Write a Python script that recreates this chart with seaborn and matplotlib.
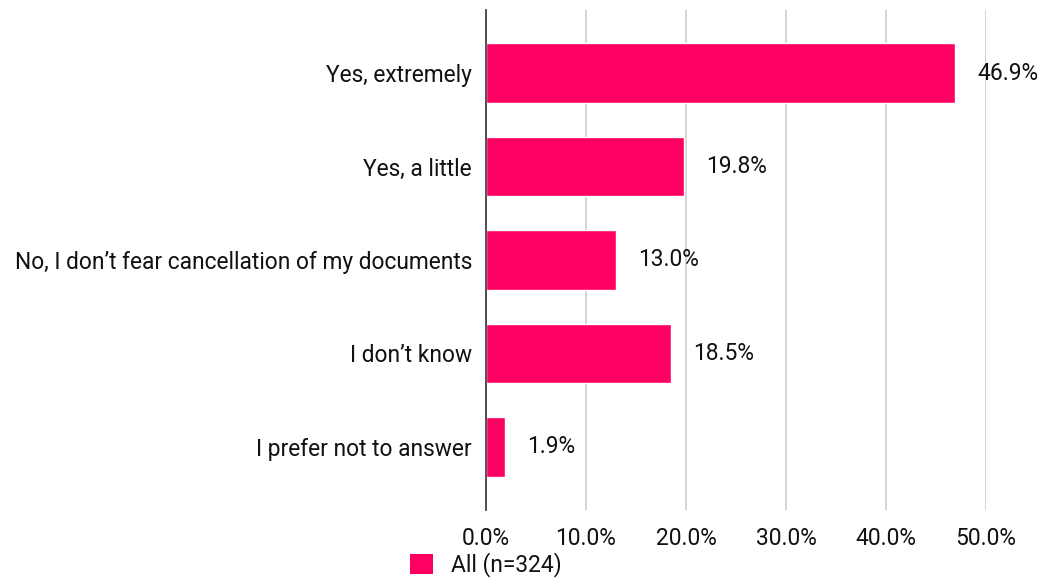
import matplotlib
matplotlib.use("Agg")
import matplotlib.pyplot as plt
import seaborn as sns
import pandas as pd
from matplotlib.patches import Patch

categories = [
    "Yes, extremely",
    "Yes, a little",
    "No, I don\u2019t fear cancellation of my documents",
    "I don\u2019t know",
    "I prefer not to answer",
]
values = [46.9, 19.8, 13.0, 18.5, 1.9]
series_name = "All (n=324)"
tick_values = [0, 10, 20, 30, 40, 50]

bar_color = "#FF0062"
text_color = "#111111"
font_size = 16.4

sns.set_theme(style="white")
plt.rcParams["font.family"] = ["Roboto", "DejaVu Sans"]

df = pd.DataFrame({"category": categories, "value": values})

fig = plt.figure(figsize=(10.41, 5.87), dpi=100)
ax = fig.add_axes([486 / 1041, 1 - 510 / 587, 500 / 1041, 500 / 587])

sns.barplot(data=df, y="category", x="value", orient="h", color=bar_color,
            width=0.64, saturation=1, ax=ax, zorder=3)

ax.set_xlim(0, 50)
ax.set_ylim(len(categories) - 1 + 0.674, -0.674)
ax.set_xticks(tick_values)
ax.set_xticklabels([f"{t:.1f}%" for t in tick_values], fontsize=font_size, color=text_color)
ax.tick_params(axis="y", labelsize=font_size, labelcolor=text_color, length=0, pad=10)
ax.tick_params(axis="x", length=0, pad=12)
ax.set_xlabel("")
ax.set_ylabel("")
ax.grid(axis="x", color="#cccccc", linewidth=1.2, zorder=0)
for s in ["top", "right", "bottom"]:
    ax.spines[s].set_visible(False)
ax.spines["left"].set_color("#333333")
ax.spines["left"].set_linewidth(1.2)
ax.spines["left"].set_zorder(4)

for i, v in enumerate(values):
    ax.annotate(f"{v:.1f}%", xy=(v, i), xytext=(22, 0), textcoords="offset pixels",
                va="center", ha="left", fontsize=font_size, color=text_color)

handle = Patch(facecolor=bar_color, edgecolor="none")
fig.legend([handle], [series_name], loc="center", bbox_to_anchor=(0.467, 1 - 565 / 587),
           frameon=False, fontsize=font_size, handlelength=1.0, handleheight=1.0,
           handletextpad=0.8, labelcolor=text_color)

fig.savefig("out.png", dpi=100)
